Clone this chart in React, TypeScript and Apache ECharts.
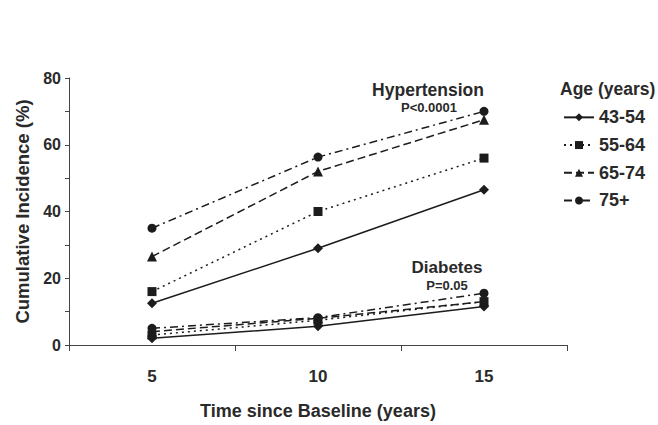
import React, { useEffect, useRef } from "react";
import * as echarts from "echarts";

const categories = ["5", "10", "15"];
const ageGroups = ["43-54", "55-64", "65-74", "75+"];
const hypertension: number[][] = [
  [12.5, 29, 46.5],
  [16, 40, 56],
  [26.5, 52, 67.5],
  [35, 56.3, 70],
];
const diabetes: number[][] = [
  [2, 5.6, 11.5],
  [3, 7.4, 13],
  [4, 8, 13],
  [5, 8.2, 15.5],
];
const yTicks = [0, 20, 40, 60, 80];

const FONT = "'Liberation Sans', Arial, sans-serif";
const INK = "#1c1c1c";
const TXT = "#2a2a2a";
const symbols = ["diamond", "rect", "triangle", "circle"];
const symbolSizes = [10, 9, 10, 9];
const dashes: any[] = ["solid", [2, 4], [8, 4], [8, 4, 2, 4]];

export default function App() {
  const ref = useRef<HTMLDivElement>(null);
  useEffect(() => {
    if (!ref.current) return;
    const chart = echarts.init(ref.current, null, { renderer: "svg" });
    const series: any[] = [];
    ageGroups.forEach((name, i) => {
      [hypertension[i], diabetes[i]].forEach((data) => {
        series.push({
          name,
          type: "line",
          data,
          symbol: symbols[i],
          symbolSize: symbolSizes[i],
          itemStyle: { color: INK },
          lineStyle: { color: INK, width: 1.5, type: dashes[i] },
        });
      });
    });
    chart.setOption({
      animation: false,
      backgroundColor: "#ffffff",
      textStyle: { fontFamily: FONT, fontWeight: "bold", color: TXT },
      grid: { left: 69, right: 91, top: 78, bottom: 79 },
      legend: {
        orient: "vertical",
        left: 558,
        top: 103,
        data: ageGroups,
        itemWidth: 30,
        itemHeight: 10,
        itemGap: 9,
        textStyle: { fontFamily: FONT, fontWeight: "bold", fontSize: 18, color: TXT, lineHeight: 18.7 },
      },
      xAxis: {
        type: "category",
        data: categories,
        boundaryGap: true,
        name: "Time since Baseline (years)",
        nameLocation: "middle",
        nameGap: 57,
        nameTextStyle: { fontFamily: FONT, fontWeight: "bold", fontSize: 18, color: TXT },
        axisLine: { lineStyle: { color: "#444", width: 1 } },
        axisTick: { show: true, length: 6, lineStyle: { color: "#444" } },
        axisLabel: { margin: 23, fontFamily: FONT, fontWeight: "bold", fontSize: 17, color: TXT },
        splitLine: { show: false },
      },
      yAxis: {
        type: "value",
        min: yTicks[0],
        max: yTicks[yTicks.length - 1],
        interval: 20,
        name: "Cumulative Incidence (%)",
        nameLocation: "middle",
        nameGap: 37,
        nameTextStyle: { fontFamily: FONT, fontWeight: "bold", fontSize: 18.5, color: TXT },
        axisLine: { show: true, lineStyle: { color: "#444", width: 1 } },
        axisTick: { show: true, length: 4, lineStyle: { color: "#444" } },
        minorTick: { show: true, splitNumber: 2, length: 4, lineStyle: { color: "#444" } },
        axisLabel: { margin: 8, fontFamily: FONT, fontWeight: "bold", fontSize: 16, color: TXT },
        splitLine: { show: false },
      },
      graphic: [
        { type: "text", left: 560, top: 80, style: { text: "Age (years)", font: `bold 17.5px ${FONT}`, fill: TXT } },
        { type: "text", x: 428, y: 90, style: { text: "Hypertension", font: `bold 17.5px ${FONT}`, fill: TXT, align: "center", verticalAlign: "middle" } },
        { type: "text", x: 429, y: 107, style: { text: "P<0.0001", font: `bold 13px ${FONT}`, fill: TXT, align: "center", verticalAlign: "middle" } },
        { type: "text", x: 447, y: 267, style: { text: "Diabetes", font: `bold 17px ${FONT}`, fill: TXT, align: "center", verticalAlign: "middle" } },
        { type: "text", x: 447, y: 285, style: { text: "P=0.05", font: `bold 13px ${FONT}`, fill: TXT, align: "center", verticalAlign: "middle" } },
      ],
      series,
    });
    return () => chart.dispose();
  }, []);
  return <div ref={ref} style={{ position: "fixed", left: 0, top: 0, width: 658, height: 425 }} />;
}
